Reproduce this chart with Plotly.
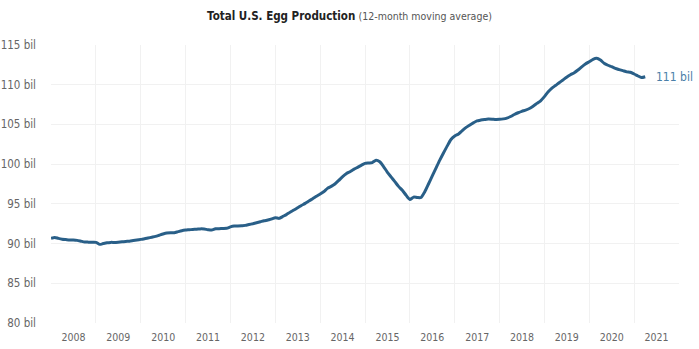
import plotly.graph_objects as go
import pandas as pd

# Monthly 12-month moving average of U.S. egg production, billions of eggs
start_month = "2008-01-01"
production_bil = [
    # 2008
    90.66, 90.78, 90.65, 90.55, 90.50, 90.45, 90.44, 90.40, 90.30, 90.20, 90.18, 90.16,
    # 2009
    90.15, 89.90, 90.00, 90.10, 90.15, 90.15, 90.18, 90.22, 90.27, 90.30, 90.38, 90.45,
    # 2010
    90.53, 90.60, 90.70, 90.80, 90.90, 91.05, 91.20, 91.32, 91.35, 91.36, 91.50, 91.62,
    # 2011
    91.70, 91.74, 91.78, 91.80, 91.85, 91.83, 91.75, 91.70, 91.86, 91.88, 91.90, 91.92,
    # 2012
    92.10, 92.20, 92.22, 92.25, 92.29, 92.40, 92.50, 92.62, 92.75, 92.88, 92.96, 93.10,
    # 2013
    93.25, 93.17, 93.40, 93.65, 93.95, 94.22, 94.50, 94.80, 95.06, 95.35, 95.65, 95.95,
    # 2014
    96.23, 96.55, 96.95, 97.20, 97.50, 97.95, 98.40, 98.80, 99.05, 99.34, 99.60, 99.85,
    # 2015
    100.10, 100.15, 100.20, 100.50, 100.30, 99.70, 99.00, 98.40, 97.80, 97.20, 96.70, 96.10,
    # 2016
    95.56, 95.85, 95.80, 95.80, 96.50, 97.50, 98.50, 99.50, 100.50, 101.40, 102.30, 103.10,
    # 2017
    103.55, 103.80, 104.20, 104.60, 104.90, 105.20, 105.45, 105.55, 105.62, 105.68, 105.66, 105.62,
    # 2018
    105.64, 105.70, 105.80, 106.00, 106.25, 106.47, 106.65, 106.80, 107.00, 107.30, 107.65, 107.98,
    # 2019
    108.50, 109.12, 109.55, 109.90, 110.25, 110.60, 110.95, 111.25, 111.51, 111.85, 112.25, 112.60,
    # 2020
    112.90, 113.20, 113.32, 113.10, 112.70, 112.45, 112.27, 112.05, 111.90, 111.77, 111.62, 111.56,
    # 2021
    111.35, 111.10, 110.90, 111.00,
]
months = pd.date_range(start_month, periods=len(production_bil), freq="MS")

latest_label = "111 bil"
title_main = "Total U.S. Egg Production"
title_sub = "(12-month moving average)"

LINE = "#295f88"
GRID = "#f1f1f1"
TICK = "#666666"
FONT = "DejaVu Sans Condensed, Roboto, Arial, sans-serif"

fig = go.Figure()
fig.add_trace(go.Scatter(
    x=months, y=production_bil, mode="lines",
    line=dict(color=LINE, width=3, shape="spline", smoothing=0.6),
    hoverinfo="skip", showlegend=False,
))

# Label for the latest value, placed just right of the line end
fig.add_annotation(
    x=months[-1], y=production_bil[-1], xref="x", yref="y",
    text=latest_label, showarrow=False, xanchor="left", xshift=9,
    font=dict(family=FONT, size=12, color="#4b7fa8"),
)

fig.update_layout(
    width=699, height=349,
    margin=dict(l=51, r=20, t=45, b=26),
    paper_bgcolor="white", plot_bgcolor="white",
    font=dict(family=FONT, size=11, color=TICK),
    title=dict(
        text=(f"<b>{title_main}</b> "
              f"<span style='color:#555555;font-size:10.5px'>{title_sub}</span>"),
        x=0.5, xref="container", xanchor="center",
        y=1, yref="container", yanchor="top", pad=dict(t=12),
        font=dict(family=FONT, size=11.5, color="#222222"),
    ),
    xaxis=dict(
        type="date", range=["2008-01-01", "2022-01-01"],
        dtick="M12", tick0="2008-01-01", tickformat="%Y",
        ticklabelmode="period", showgrid=True, gridcolor=GRID, gridwidth=1,
        zeroline=False, showline=False, ticks="", ticklabelstandoff=6,
        automargin=False,
        tickfont=dict(family=FONT, size=10.5, color=TICK),
    ),
    yaxis=dict(
        range=[80, 115], dtick=5, tick0=80, ticksuffix=" bil",
        showgrid=True, gridcolor=GRID, gridwidth=1,
        zeroline=False, showline=False, ticks="", ticklabelstandoff=14,
        automargin=False,
        tickfont=dict(family=FONT, size=11.5, color=TICK),
    ),
)

fig.write_html("out.html")
